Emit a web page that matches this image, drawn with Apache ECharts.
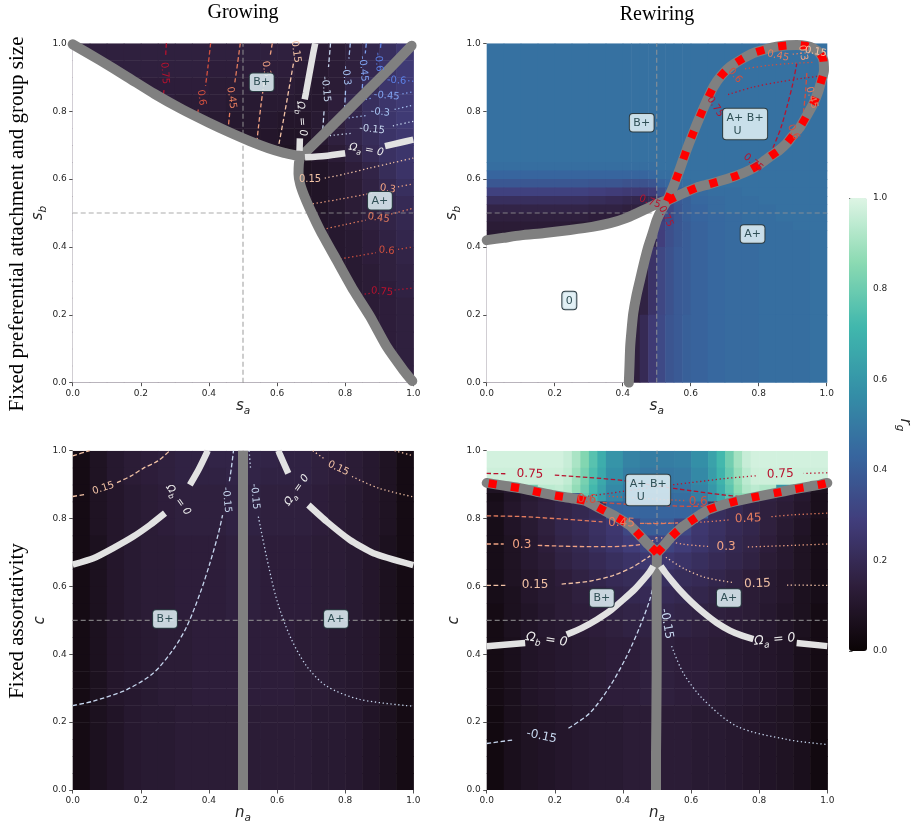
<!DOCTYPE html>
<html>
<head>
<meta charset="utf-8">
<title>r_g phase diagrams</title>
<script src="https://cdn.jsdelivr.net/npm/echarts@6.0.0/dist/echarts.min.js"></script>
<style>
  html, body { margin: 0; padding: 0; background: #fff; }
  #chart { width: 917px; height: 825px; }
</style>
</head>
<body>
<div id="chart"></div>
<script>
// ---------------- data ----------------
const ticks = [0, 0.2, 0.4, 0.6, 0.8, 1.0];
const cbTicks = [0, 0.2, 0.4, 0.6, 0.8, 1.0];

// heatmap cell edges (x left->right, y top->bottom)
const xEdges20 = [0,0.05,0.1,0.15,0.2,0.25,0.3,0.35,0.4,0.45,0.5,0.55,0.6,0.65,0.7,0.75,0.8,0.85,0.9,0.95,1];
const yEdges20 = [1,0.95,0.9,0.85,0.8,0.75,0.7,0.65,0.6,0.55,0.5,0.45,0.4,0.35,0.3,0.25,0.2,0.15,0.1,0.05,0];
const rewireXEdges = [0,0.05,0.1,0.15,0.2,0.25,0.3,0.35,0.4,0.425,0.45,0.475,0.5,0.525,0.55,0.575,0.6,0.65,0.7,0.75,0.8,0.85,0.9,0.95,1];
const rewireYEdges = [1,0.65,0.625,0.6,0.575,0.55,0.525,0.5,0.475,0.45,0.4,0.2,0];
const bandXEdges = [0,0.05,0.1,0.15,0.2,0.225,0.25,0.275,0.3,0.325,0.35,0.4,0.45,0.5,0.55,0.6,0.65,0.675,0.7,0.725,0.75,0.775,0.8,0.85,0.9,0.95,1];
const bandYEdges = [1,0.95,0.9,0.875,0.85];
const lowYEdges = [0.85,0.8,0.75,0.7,0.65,0.6,0.55,0.5,0.45,0.4,0.35,0.3,0.25,0.2,0.15,0.1,0.05,0];

// r_g in percent, one row per y band (top first)
const growGrid = [
  [15,15,15,15,15,15,15,15,15,15,15,15,15,14,13,13,15,18,22,26],
  [15,15,15,15,15,15,15,15,14,14,14,14,14,13,12,13,15,19,24,27],
  [14,14,14,14,14,14,14,14,13,13,13,13,13,12,11,13,17,21,25,27],
  [14,14,14,14,14,14,13,13,13,12,12,12,12,11,11,14,18,22,25,27],
  [14,14,14,14,14,13,13,12,12,11,11,11,10,10,12,15,18,22,25,27],
  [14,14,14,14,13,13,12,12,11,10,10,10, 9, 9,12,15,18,21,24,26],
  [13,13,13,13,13,12,12,11,10, 9, 9, 9, 8, 8,10,13,16,20,23,25],
  [12,12,12,12,12,12,12,12,12,12,12,12,12, 8, 9,11,14,17,21,24],
  [12,12,12,12,12,12,12,12,12,12,12,12,12, 8, 9,11,13,16,19,22],
  [12,12,12,12,12,12,12,12,12,12,12,12,12,12, 9,11,13,15,18,20],
  [12,12,12,12,12,12,12,12,12,12,12,12,12,12,10,11,13,15,17,19],
  [12,12,12,12,12,12,12,12,12,12,12,12,12,12,12,11,12,14,16,18],
  [12,12,12,12,12,12,12,12,12,12,12,12,12,12,12,11,12,14,15,17],
  [12,12,12,12,12,12,12,12,12,12,12,12,12,12,12,12,12,13,15,16],
  [12,12,12,12,12,12,12,12,12,12,12,12,12,12,12,12,12,13,14,16],
  [12,12,12,12,12,12,12,12,12,12,12,12,12,12,12,12,12,13,14,15],
  [12,12,12,12,12,12,12,12,12,12,12,12,12,12,12,12,12,13,14,15],
  [12,12,12,12,12,12,12,12,12,12,12,12,12,12,12,12,12,12,14,15],
  [12,12,12,12,12,12,12,12,12,12,12,12,12,12,12,12,12,12,14,15],
  [12,12,12,12,12,12,12,12,12,12,12,12,12,12,12,12,12,12,12,15]
];
const rewireGrid = [
  [47,47,47,47,47,47,47,47,47,47,47,47,47,47,47,47,47,47,47,47,47,47,47,47],
  [46,46,46,46,46,46,46,46,46,46,46,46,47,47,47,47,47,47,47,47,47,47,47,47],
  [43,43,43,43,43,43,43,43,43,43,43,44,46,46,47,47,47,47,47,47,47,47,47,47],
  [38,38,38,38,38,38,37,37,36,36,36,37,42,44,45,46,47,47,47,47,47,47,47,47],
  [30,30,30,30,30,30,29,28,27,27,27,28,36,40,42,44,45,46,46,47,47,47,47,47],
  [22,22,22,22,22,22,21,20,19,18,18,20,27,35,39,41,44,45,46,46,47,47,47,47],
  [17,17,17,17,17,17,16,16,15,15,15,16,22,33,38,41,43,45,46,46,46,47,47,47],
  [15,15,15,15,15,15,14,14,13,13,14,18,28,34,38,41,43,44,45,46,46,47,47,47],
  [13,13,13,13,13,12,12,12,12,12,14,22,30,35,38,40,42,44,45,46,46,46,47,47],
  [12,12,12,12,12,12,12,12,12,12,12,18,29,35,38,40,42,44,45,45,46,46,46,47],
  [12,12,12,12,12,12,12,12,12,13,16,24,32,36,39,40,42,44,45,45,46,46,46,47],
  [12,12,12,12,12,12,12,12,12,15,20,27,33,37,39,41,42,44,45,45,46,46,46,47]
];
const assortGrowGrid = [
  [4,8,11,13,14,15,16,16,17,17,17,17,16,16,15,14,13,11,8,4],
  [4,8,11,13,14,15,16,16,16,17,17,16,16,16,15,14,13,11,8,4],
  [4,8,10,12,13,14,15,15,15,16,16,15,15,15,14,13,12,10,8,4],
  [4,8,10,12,13,14,15,15,15,16,16,15,15,15,14,13,12,10,8,4],
  [4,8,10,12,13,14,15,15,15,16,16,15,15,15,14,13,12,10,8,4],
  [4,7,10,12,13,13,14,14,14,15,15,14,14,14,13,13,12,10,7,4],
  [4,7,10,12,13,13,14,14,14,15,15,14,14,14,13,13,12,10,7,4],
  [4,7,10,12,13,13,14,14,14,15,15,14,14,14,13,13,12,10,7,4],
  [4,7,10,12,13,13,14,14,14,15,15,14,14,14,13,13,12,10,7,4],
  [4,7,10,12,13,13,14,14,14,15,15,14,14,14,13,13,12,10,7,4],
  [4,7,10,11,12,13,13,14,14,14,14,14,14,13,13,12,11,10,7,4],
  [4,7,10,11,12,13,13,14,14,14,14,14,14,13,13,12,11,10,7,4],
  [4,7,10,11,12,13,13,14,14,14,14,14,14,13,13,12,11,10,7,4],
  [4,7,10,11,12,13,13,14,14,14,14,14,14,13,13,12,11,10,7,4],
  [4,7,10,11,12,13,13,14,14,14,14,14,14,13,13,12,11,10,7,4],
  [4,7,9,11,12,12,13,13,13,13,13,13,13,13,12,12,11,9,7,4],
  [4,7,9,11,12,12,13,13,13,13,13,13,13,13,12,12,11,9,7,4],
  [4,7,9,11,12,12,13,13,13,13,13,13,13,13,12,12,11,9,7,4],
  [4,7,9,11,12,12,13,13,13,13,13,13,13,13,12,12,11,9,7,4],
  [4,7,9,11,12,12,13,13,13,13,13,13,13,13,12,12,11,9,7,4]
];
// rewiring + fixed assortativity: light band at the top, then the rest
const assortRewireBand = [
  [98,98,98,98,98,96,91,84,76,68,59,53,51,51,52,57,64,72,81,90,96,98,98,98,98,98],
  [97,97,97,97,97,95,89,82,74,66,57,51,49,49,50,55,62,70,79,88,94,97,97,97,97,97],
  [8,11,80,94,95,93,87,80,72,64,55,49,47,47,48,53,60,68,77,86,92,94,92,60,15,7],
  [5,9,12,14,16,17,40,78,70,62,53,47,45,45,46,51,58,66,75,84,88,40,16,14,11,6]
];
const assortRewireLow = [
  [6,10,13,15,17,19,21,42,43,43,43,43,42,22,20,17,15,13,10,6],
  [5,9,12,15,18,20,23,26,32,40,40,32,26,23,20,18,15,12,9,5],
  [5,8,11,14,17,19,22,25,28,31,31,28,25,22,19,17,14,11,8,5],
  [5,8,11,13,16,18,20,22,24,26,26,24,22,20,18,16,13,11,8,5],
  [5,8,10,12,14,16,18,20,21,22,22,21,20,18,16,14,12,10,8,5],
  [5,7,10,12,13,15,16,18,19,20,20,19,18,16,15,13,12,10,7,5],
  [4,7,9,11,13,14,15,16,17,18,18,17,16,15,14,13,11,9,7,4],
  [4,7,9,11,12,13,14,15,16,16,16,16,15,14,13,12,11,9,7,4],
  [4,6,9,10,11,12,13,14,14,15,15,14,14,13,12,11,10,9,6,4],
  [4,6,9,10,11,12,13,14,14,15,15,14,14,13,12,11,10,9,6,4],
  [4,6,9,10,11,12,13,14,14,15,15,14,14,13,12,11,10,9,6,4],
  [4,6,9,10,11,12,13,14,14,15,15,14,14,13,12,11,10,9,6,4],
  [3,6,8,9,10,11,12,12,13,13,13,13,12,12,11,10,9,8,6,3],
  [3,6,8,9,10,11,12,12,13,13,13,13,12,12,11,10,9,8,6,3],
  [3,6,8,9,10,11,12,12,13,13,13,13,12,12,11,10,9,8,6,3],
  [3,6,8,9,10,11,12,12,13,13,13,13,12,12,11,10,9,8,6,3],
  [3,6,8,9,10,11,12,12,13,13,13,13,12,12,11,10,9,8,6,3]
];

// phase boundaries (null = break in the line)
const growBoundary = [[0,0.997],[0.08,0.95],[0.16,0.901],[0.24,0.851],[0.32,0.806],[0.4,0.766],[0.46,0.738],[0.52,0.712],[0.575,0.691],[0.618,0.678],[0.648,0.671],[0.667,0.666],[0.664,0.645],[0.663,0.615],[0.668,0.585],[0.68,0.55],[0.695,0.515],[0.726,0.45],[0.775,0.361],[0.824,0.273],[0.873,0.195],[0.922,0.106],[0.971,0.037],[0.997,0.005]];
const growDiagonal = [[0.672,0.668],[0.75,0.745],[0.85,0.845],[0.93,0.925],[0.995,0.993]];
const growOmegaB = [[0.712,1],[0.706,0.97],[0.695,0.91],[0.685,0.855],[0.681,0.835],null,[0.667,0.72],[0.666,0.683]];
const growOmegaA = [[0.682,0.664],[0.74,0.668],[0.8,0.676],null,[0.917,0.697],[0.96,0.707],[1,0.716]];

const rewireLeft = [[0,0.42],[0.05,0.427],[0.1,0.434],[0.17,0.441],[0.245,0.45],[0.31,0.459],[0.363,0.47],[0.41,0.485],[0.441,0.499],[0.475,0.515],[0.5,0.527],[0.53,0.538]];
const rewireBottom = [[0.418,0],[0.42,0.05],[0.422,0.106],[0.426,0.155],[0.431,0.204],[0.44,0.255],[0.451,0.303],[0.462,0.35],[0.475,0.4],[0.488,0.44],[0.5,0.479],[0.512,0.505],[0.53,0.535]];
const rewireLoop = [[0.53,0.535],[0.549,0.578],[0.57,0.635],[0.588,0.686],[0.607,0.735],[0.627,0.784],[0.647,0.83],[0.667,0.872],[0.69,0.905],[0.716,0.931],[0.75,0.953],[0.784,0.971],[0.82,0.982],[0.853,0.99],[0.885,0.994],[0.912,0.995],[0.94,0.992],[0.961,0.985],[0.98,0.97],[0.99,0.951],[0.992,0.92],[0.985,0.892],[0.975,0.858],[0.961,0.823],[0.942,0.788],[0.922,0.754],[0.9,0.728],[0.882,0.705],[0.86,0.685],[0.833,0.666],[0.805,0.645],[0.775,0.627],[0.735,0.61],[0.696,0.597],[0.655,0.585],[0.618,0.575],[0.578,0.558],[0.53,0.535]];

const assortGrowStem = [[0.5,0],[0.5,1]];
const assortGrowOmegaB = [[0,0.664],[0.061,0.683],[0.119,0.713],[0.178,0.747],[0.227,0.781],[0.271,0.816],null,[0.344,0.899],[0.369,0.943],[0.393,0.992],[0.396,1]];
const assortGrowOmegaA = [[0.604,1],[0.607,0.992],[0.633,0.933],null,[0.692,0.84],[0.746,0.791],[0.814,0.737],[0.883,0.698],[1,0.663]];

const assortRewireStem = [[0.497,0],[0.497,0.1],[0.498,0.2],[0.499,0.345],[0.499,0.5],[0.499,0.659],[0.5,0.698]];
const assortRewireLeft = [[0.5,0.698],[0.494,0.705],[0.47,0.728],[0.445,0.755],[0.42,0.78],[0.38,0.805],[0.338,0.827],[0.29,0.852],[0.25,0.86],[0.2,0.868],[0.147,0.879],[0.1,0.889],[0.05,0.897],[0,0.905]];
const assortRewireRight = [[0.5,0.698],[0.52,0.72],[0.543,0.747],[0.57,0.772],[0.597,0.791],[0.625,0.81],[0.651,0.826],[0.685,0.838],[0.719,0.848],[0.78,0.862],[0.846,0.875],[0.9,0.886],[0.95,0.895],[0.979,0.9],[1,0.905]];
const assortRewireOmegaB = [[0,0.424],[0.113,0.433],null,[0.235,0.458],[0.28,0.478],[0.323,0.502],[0.365,0.53],[0.401,0.561],[0.435,0.592],[0.46,0.62],[0.478,0.642],[0.489,0.66]];
const assortRewireOmegaA = [[0.511,0.66],[0.525,0.64],[0.545,0.615],[0.568,0.588],[0.6,0.555],[0.636,0.523],[0.675,0.493],[0.714,0.47],[0.75,0.455],[0.783,0.445],null,[0.91,0.433],[1,0.424]];

const crossV = [[0.5,0],[0.5,1]];
const crossH = [[0,0.5],[1,0.5]];

// contours: [level, 'd' dashed | 'o' dotted, points]
const growContours = [
  ['0.75','d',[[0.275,1],[0.273,0.965],null,[0.268,0.862],[0.265,0.836]]],
  ['0.6','d',[[0.405,1],[0.397,0.93],[0.39,0.875],null,[0.369,0.805],[0.362,0.775]]],
  ['0.45','d',[[0.492,1],[0.484,0.94],[0.476,0.885],null,[0.461,0.795],[0.455,0.735]]],
  ['0.3','d',[[0.586,1],[0.58,0.965],null,[0.562,0.885],[0.553,0.82],[0.545,0.75],[0.54,0.703]]],
  ['0.15','d',[[0.648,0.94],[0.634,0.86],[0.618,0.77],[0.603,0.69]]],
  ['-0.15','d',[[0.757,1],[0.751,0.93],null,[0.738,0.8],[0.733,0.73]]],
  ['-0.3','d',[[0.815,1],[0.811,0.955],null,[0.801,0.86],[0.798,0.8]]],
  ['-0.45','d',[[0.862,1],[0.859,0.97],null,[0.851,0.88],[0.849,0.852]]],
  ['-0.6','d',[[0.905,1],[0.903,0.98],null,[0.898,0.91],[0.897,0.9]]],
  ['-0.6','o',[[0.9,0.9],[0.918,0.896],null,[0.985,0.89],[1,0.888]]],
  ['-0.45','o',[[0.86,0.835],[0.875,0.838],null,[0.968,0.851],[1,0.857]]],
  ['-0.3','o',[[0.81,0.78],[0.86,0.787],null,[0.945,0.805],[1,0.818]]],
  ['-0.15','o',[[0.755,0.728],[0.82,0.735],null,[0.94,0.757],[1,0.77]]],
  ['0.15','o',[[0.74,0.603],[0.8,0.615],[0.87,0.632],[0.94,0.648],[1,0.662]]],
  ['0.3','o',[[0.705,0.527],[0.78,0.54],[0.86,0.555],[0.895,0.562],null,[0.955,0.577],[1,0.586]]],
  ['0.45','o',[[0.735,0.452],[0.8,0.466],[0.86,0.479],null,[0.935,0.497],[1,0.514]]],
  ['0.6','o',[[0.775,0.363],[0.84,0.374],[0.89,0.383],null,[0.955,0.393],[1,0.4]]],
  ['0.75','o',[[0.834,0.258],[0.872,0.263],null,[0.945,0.273],[1,0.279]]]
];
const rewireContours = [
  ['0.75','o',[[0.71,0.849],[0.78,0.87],[0.86,0.886],[0.93,0.897],[0.975,0.903]]],
  ['0.6','o',[[0.76,0.925],[0.83,0.935],[0.9,0.941],[0.965,0.944]]],
  ['0.45','o',[[0.9,0.968],[0.94,0.972],[0.97,0.975]]],
  ['0.75','d',[[0.842,0.692],[0.865,0.75],[0.885,0.82],[0.9,0.88],[0.912,0.94]]],
  ['0.6','d',[[0.925,0.735],[0.932,0.8],[0.938,0.86],[0.942,0.92]]]
];
const assortGrowContours = [
  ['-0.15','d',[[0,0.249],[0.061,0.262],[0.159,0.296],[0.237,0.345],[0.295,0.414],[0.335,0.482],[0.374,0.58],[0.403,0.669],[0.428,0.757],[0.44,0.81],null,[0.46,0.91],[0.466,0.95],[0.472,1]]],
  ['-0.15','o',[[0.518,1],[0.522,0.95],null,[0.545,0.806],[0.569,0.688],[0.599,0.561],[0.638,0.453],[0.687,0.365],[0.746,0.306],[0.843,0.267],[1,0.247]]],
  ['0.15','d',[[0,0.865],[0.04,0.872],null,[0.13,0.906],[0.17,0.925],[0.207,0.948],[0.25,0.97],[0.285,1]]],
  ['0.15','d',[[0,0.985],[0.05,1]]],
  ['0.15','o',[[0.705,1],[0.74,0.975],null,[0.82,0.924],[0.9,0.889],[1,0.864]]],
  ['0.15','o',[[0.945,1],[1,0.985]]]
];
const assortRewireContours = [
  ['0.75','d',[[0,0.933],[0.06,0.932],null,[0.2,0.928],[0.3,0.921],[0.4,0.912],[0.5,0.896],[0.6,0.882],[0.7,0.869],[0.75,0.864]]],
  ['0.75','o',[[1,0.935],[0.93,0.933],null,[0.79,0.926],[0.7,0.918],[0.6,0.906],[0.5,0.894],[0.4,0.88],[0.3,0.866],[0.26,0.861]]],
  ['0.6','d',[[0.32,0.849],[0.4,0.843],[0.5,0.839],[0.6,0.836],[0.67,0.838]]],
  ['0.6','o',[[0.73,0.849],[0.66,0.85],null,[0.58,0.853],[0.5,0.857],[0.42,0.862],[0.35,0.866]]],
  ['0.45','d',[[0,0.808],[0.1,0.806],[0.2,0.8],[0.3,0.793],[0.34,0.79],null,[0.45,0.786],[0.5,0.785],[0.56,0.787]]],
  ['0.45','o',[[1,0.816],[0.9,0.811],[0.83,0.805],null,[0.71,0.796],[0.64,0.79],[0.56,0.787],[0.46,0.786]]],
  ['0.3','d',[[0,0.725],[0.05,0.725],null,[0.15,0.721],[0.25,0.718],[0.35,0.717],[0.44,0.722],[0.48,0.731],[0.5,0.745]]],
  ['0.3','o',[[1,0.725],[0.9,0.721],[0.76,0.716],null,[0.65,0.718],[0.58,0.724],[0.53,0.735],[0.51,0.745]]],
  ['0.15','d',[[0,0.603],[0.06,0.603],null,[0.22,0.607],[0.3,0.615],[0.37,0.632],[0.43,0.658],[0.48,0.69]]],
  ['0.15','o',[[1,0.603],[0.88,0.604],null,[0.72,0.612],[0.64,0.627],[0.58,0.652],[0.52,0.69]]],
  ['-0.15','d',[[0,0.137],[0.08,0.148],null,[0.24,0.182],[0.303,0.227],[0.362,0.306],[0.411,0.394],[0.45,0.482],[0.479,0.561],[0.49,0.61]]],
  ['-0.15','o',[[0.543,0.424],[0.577,0.345],[0.636,0.267],[0.734,0.188],[0.881,0.149],[1,0.134]]]
];

// contour labels: [x, y, text, rotation]
const growLevelLabels = [
  [0.27,0.912,'0.75',-86],[0.378,0.84,'0.6',-82],[0.466,0.84,'0.45',-82],[0.568,0.925,'0.3',-82],[0.655,0.975,'0.15',-82],
  [0.743,0.865,'-0.15',-85],[0.803,0.905,'-0.3',-85],[0.853,0.925,'-0.45',-85],[0.898,0.945,'-0.6',-85],
  [0.951,0.89,'-0.6',-4],[0.922,0.845,'-0.45',-5],[0.903,0.797,'-0.3',-6],[0.879,0.746,'-0.15',-6],
  [0.697,0.599,'0.15',0],[0.925,0.571,'0.3',-8],[0.898,0.485,'0.45',-8],[0.922,0.389,'0.6',-5],[0.908,0.268,'0.75',-5]
];
const rewireLevelLabels = [
  [0.672,0.813,'0.75',-58],[0.784,0.648,'0.75',-40],[0.73,0.905,'0.6',-50],[0.902,0.738,'0.6',-65],
  [0.857,0.963,'0.45',-12],[0.956,0.84,'0.45',-75],[0.48,0.533,'0.75',-20],[0.527,0.49,'0.75',-65],
  [0.93,0.972,'0.3',-80],[0.968,0.975,'0.15',-10]
];
const assortGrowLevelLabels = [
  [0.452,0.855,'-0.15',-85],[0.535,0.865,'-0.15',-85],[0.09,0.889,'0.15',18],[0.78,0.948,'0.15',-25]
];
const assortRewireLevelLabels = [
  [0.127,0.931,'0.75',-2],[0.862,0.931,'0.75',2],[0.294,0.857,'0.6',-4],[0.621,0.85,'0.6',0],
  [0.396,0.787,'0.45',-2],[0.768,0.8,'0.45',2],[0.103,0.723,'0.3',0],[0.703,0.717,'0.3',0],
  [0.142,0.605,'0.15',0],[0.795,0.608,'0.15',2],[0.161,0.158,'-0.15',-12],[0.528,0.49,'-0.15',-80]
];

// Omega = 0 labels: [x, y, subscript, rotation]
const growOmegaLabels = [[0.672,0.778,'b',-85],[0.862,0.686,'a',-10]];
const assortGrowOmegaLabels = [[0.31,0.855,'b',-55],[0.658,0.884,'a',55]];
const assortRewireOmegaLabels = [[0.176,0.443,'b',-8],[0.846,0.443,'a',5]];

// regime boxes: [x, y, text]
const growBoxes = [[0.555,0.885,'B+'],[0.902,0.536,'A+']];
const rewireBoxes = [[0.456,0.766,'B+'],[0.76,0.762,'A+ B+|U'],[0.782,0.438,'A+'],[0.243,0.242,'0']];
const assortGrowBoxes = [[0.271,0.504,'B+'],[0.773,0.504,'A+']];
const assortRewireBoxes = [[0.474,0.884,'A+ B+|U'],[0.338,0.566,'B+'],[0.711,0.566,'A+']];

// ---------------- styling ----------------
const mako = ['#0b0405', '#2e1e3b', '#413d7b', '#37659e', '#348fa7', '#40b7ad', '#8bdab2', '#def5e5'];
const levelColor = {
  '-0.6': '#5b7fe4', '-0.45': '#7fa2f0', '-0.3': '#a6c2f2', '-0.15': '#c6d6ee',
  '0.15': '#f3c3a6', '0.3': '#f0a283', '0.45': '#e47c5e', '0.6': '#d2503f', '0.75': '#b8122e'
};
const SANS = 'DejaVu Sans';
const SERIF = 'Liberation Serif';
const INK = '#262626';
const panels = [
  { left: 72.7, top: 43.3, width: 340.6, height: 339.4 },
  { left: 486.7, top: 43.3, width: 340, height: 339.4 },
  { left: 72.7, top: 450.7, width: 340.6, height: 340 },
  { left: 486.7, top: 450.7, width: 340.6, height: 340 }
];

const chart = echarts.init(document.getElementById('chart'));

// one record per cell: [x0, y0, x1, y1, r_g]
function gridCells(rows, xe, ye) {
  const out = [];
  rows.forEach((row, r) => row.forEach((v, c) => {
    out.push([xe[c], ye[r], xe[c + 1], ye[r + 1], v / 100]);
  }));
  return out;
}

function renderCell(params, api) {
  const p0 = api.coord([api.value(0), api.value(1)]);
  const p1 = api.coord([api.value(2), api.value(3)]);
  return {
    type: 'rect',
    shape: { x: p0[0], y: p0[1], width: p1[0] - p0[0] + 0.6, height: p1[1] - p0[1] + 0.6 },
    style: { fill: api.visual('color') }
  };
}

function heatSeries(p, rows, xe, ye) {
  return {
    type: 'custom', xAxisIndex: p, yAxisIndex: p, silent: true, z: 1, clip: true,
    dimensions: ['x0', 'y0', 'x1', 'y1', 'rg'], encode: { x: [0, 2], y: [1, 3] },
    data: gridCells(rows, xe, ye), renderItem: renderCell
  };
}

function voidSeries(p, poly) {
  return {
    type: 'custom', xAxisIndex: p, yAxisIndex: p, silent: true, z: 2, clip: true,
    data: [[0.5, 0.5]], encode: { x: 0, y: 1 },
    renderItem: (params, api) => ({
      type: 'polygon',
      shape: { points: poly.map(pt => api.coord(pt)) },
      style: { fill: '#ffffff' }
    })
  };
}

function path(points) {
  return points.map(pt => (pt === null ? ['-', '-'] : pt));
}

function line(p, points, lineStyle, z, smooth) {
  return {
    type: 'line', xAxisIndex: p, yAxisIndex: p, data: path(points),
    symbol: 'none', showSymbol: false, silent: true, connectNulls: false,
    smooth: smooth || 0, z: z, lineStyle: lineStyle
  };
}

function contourSeries(p, list) {
  return list.map(([lvl, kind, pts]) => line(p, pts, {
    color: levelColor[lvl], width: 1.3,
    type: kind === 'd' ? [4.5, 2.5] : [1.3, 2.6]
  }, 4, 0.3));
}

function levelLabelSeries(p, items, size) {
  return {
    type: 'scatter', xAxisIndex: p, yAxisIndex: p, symbolSize: 0, silent: true, z: 8, clip: false,
    itemStyle: { opacity: 1 },
    data: items.map(([x, y, txt, rot]) => ({
      value: [x, y],
      label: { formatter: txt, rotate: rot, color: levelColor[txt] }
    })),
    label: { show: true, position: 'inside', fontSize: size, fontFamily: SANS }
  };
}

function omegaLabelSeries(p, items, size) {
  return {
    type: 'scatter', xAxisIndex: p, yAxisIndex: p, symbolSize: 0, silent: true, z: 8, clip: false,
    itemStyle: { opacity: 1 },
    data: items.map(([x, y, sub, rot]) => ({
      value: [x, y],
      label: { formatter: '{o|Ω}{s|' + sub + '}{o| = 0}', rotate: rot }
    })),
    label: {
      show: true, position: 'inside', color: '#ececec',
      rich: {
        o: { fontSize: size, fontStyle: 'italic', fontFamily: SANS, color: '#ececec', lineHeight: size + 6 },
        s: { fontSize: size * 0.72, fontStyle: 'italic', fontFamily: SANS, color: '#ececec', verticalAlign: 'bottom' }
      }
    }
  };
}

function boxSeries(p, items) {
  return {
    type: 'scatter', xAxisIndex: p, yAxisIndex: p, symbolSize: 0, silent: true, z: 9, clip: false,
    itemStyle: { opacity: 1 },
    data: items.map(([x, y, txt]) => ({
      value: [x, y],
      label: {
        formatter: txt.indexOf('|') >= 0
          ? txt.split('|').map((s, i) => '{m|' + (i ? '  ' + s : s) + '}').join('\n')
          : txt
      }
    })),
    label: {
      show: true, position: 'inside', fontSize: 11, lineHeight: 13, fontFamily: SANS, color: '#2f4f55',
      backgroundColor: 'rgba(222,238,244,0.88)', borderColor: '#2b3b42', borderWidth: 1,
      borderRadius: 3, padding: [2.5, 3.5, 2, 3.5],
      rich: { m: { width: 37, align: 'left', fontSize: 11, lineHeight: 13, fontFamily: SANS, color: '#2f4f55' } }
    }
  };
}

const grayStyle = { color: '#808080', width: 10, cap: 'round', join: 'round' };
const redStyle = { color: '#ff0000', width: 8, type: [8, 14.5], cap: 'butt' };
const whiteStyle = { color: '#e2e2e2', width: 6.5, cap: 'butt' };
const crossStyle = { color: 'rgba(150,150,150,0.8)', width: 1.2, type: [5, 3] };

function axisName(main, sub) {
  return sub ? '{v|' + main + '}{u|' + sub + '}' : '{v|' + main + '}';
}
const nameStyle = {
  color: INK,
  rich: {
    v: { fontSize: 15, fontStyle: 'italic', fontFamily: SANS, color: INK, lineHeight: 21 },
    u: { fontSize: 10.5, fontStyle: 'italic', fontFamily: SANS, color: INK, verticalAlign: 'bottom' }
  }
};

function axisFor(i, name, gap) {
  return {
    gridIndex: i, type: 'value', min: 0, max: 1, interval: 0.2,
    name: name, nameLocation: 'middle', nameGap: gap, nameTextStyle: nameStyle,
    axisLine: { show: false }, splitLine: { show: false },
    axisTick: { show: true, length: 3.5, lineStyle: { color: INK, width: 0.8 }, customValues: ticks },
    axisLabel: { fontSize: 9, color: INK, margin: 6, fontFamily: SANS, customValues: ticks, formatter: v => v.toFixed(1) }
  };
}

// ---------------- series ----------------
const series = [
  heatSeries(0, growGrid, xEdges20, yEdges20),
  heatSeries(1, rewireGrid, rewireXEdges, rewireYEdges),
  heatSeries(2, assortGrowGrid, xEdges20, yEdges20),
  heatSeries(3, assortRewireBand, bandXEdges, bandYEdges),
  heatSeries(3, assortRewireLow, xEdges20, lowYEdges),
  voidSeries(0, [[0, 0]].concat(growBoundary, [[1, 0]])),
  voidSeries(1, [[0, 0]].concat(rewireLeft, rewireBottom.slice().reverse()))
];

[0, 1, 2, 3].forEach(p => {
  series.push(line(p, crossV, crossStyle, 3));
  series.push(line(p, crossH, crossStyle, 3));
});

series.push(...contourSeries(0, growContours));
series.push(...contourSeries(1, rewireContours));
series.push(...contourSeries(2, assortGrowContours));
series.push(...contourSeries(3, assortRewireContours));

// growing, fixed PA
series.push(line(0, growBoundary, grayStyle, 5, 0.2));
series.push(line(0, growDiagonal, grayStyle, 5));
series.push(line(0, growOmegaB, whiteStyle, 7, 0.2));
series.push(line(0, growOmegaA, whiteStyle, 7, 0.2));
// rewiring, fixed PA
series.push(line(1, rewireLeft, grayStyle, 5, 0.2));
series.push(line(1, rewireBottom, grayStyle, 5, 0.2));
series.push(line(1, rewireLoop, grayStyle, 5, 0.2));
series.push(line(1, rewireLoop, redStyle, 6, 0.2));
// growing, fixed assortativity
series.push(line(2, assortGrowStem, Object.assign({}, grayStyle, { cap: 'butt' }), 5));
series.push(line(2, assortGrowOmegaB, whiteStyle, 7, 0.2));
series.push(line(2, assortGrowOmegaA, whiteStyle, 7, 0.2));
// rewiring, fixed assortativity
series.push(line(3, assortRewireStem, Object.assign({}, grayStyle, { cap: 'butt' }), 5));
series.push(line(3, assortRewireLeft, grayStyle, 5, 0.2));
series.push(line(3, assortRewireRight, grayStyle, 5, 0.2));
series.push(line(3, assortRewireLeft, redStyle, 6, 0.2));
series.push(line(3, assortRewireRight, redStyle, 6, 0.2));
series.push(line(3, assortRewireOmegaB, whiteStyle, 7, 0.2));
series.push(line(3, assortRewireOmegaA, whiteStyle, 7, 0.2));

series.push(levelLabelSeries(0, growLevelLabels, 10));
series.push(levelLabelSeries(1, rewireLevelLabels, 10));
series.push(levelLabelSeries(2, assortGrowLevelLabels, 10));
series.push(levelLabelSeries(3, assortRewireLevelLabels, 12));
series.push(omegaLabelSeries(0, growOmegaLabels, 10.5));
series.push(omegaLabelSeries(2, assortGrowOmegaLabels, 10.5));
series.push(omegaLabelSeries(3, assortRewireOmegaLabels, 12.5));
series.push(boxSeries(0, growBoxes));
series.push(boxSeries(1, rewireBoxes));
series.push(boxSeries(2, assortGrowBoxes));
series.push(boxSeries(3, assortRewireBoxes));
series.push({ type: 'line', xAxisIndex: 4, yAxisIndex: 4, data: [], silent: true });

const option = {
  animation: false,
  backgroundColor: '#ffffff',
  grid: panels.concat([{ left: 849, top: 198, width: 18, height: 453 }]),
  xAxis: [
    axisFor(0, axisName('s', 'a'), 13), axisFor(1, axisName('s', 'a'), 13),
    axisFor(2, axisName('n', 'a'), 13), axisFor(3, axisName('n', 'a'), 13),
    { gridIndex: 4, type: 'value', min: 0, max: 1, show: false }
  ],
  yAxis: [
    axisFor(0, axisName('s', 'b'), 22), axisFor(1, axisName('s', 'b'), 22),
    axisFor(2, axisName('c'), 22), axisFor(3, axisName('c'), 22),
    {
      gridIndex: 4, type: 'value', min: 0, max: 1, interval: 0.2, position: 'right',
      axisLine: { show: false }, splitLine: { show: false },
      axisTick: { show: true, length: 3.5, lineStyle: { color: INK, width: 0.8 }, customValues: cbTicks },
      axisLabel: { fontSize: 9, color: INK, margin: 6, fontFamily: SANS, customValues: cbTicks, formatter: v => v.toFixed(1) }
    }
  ],
  visualMap: {
    type: 'continuous', min: 0, max: 1, dimension: 4, seriesIndex: [0, 1, 2, 3, 4],
    inRange: { color: mako }, left: 849, top: 198, itemWidth: 18, itemHeight: 453,
    calculable: false, hoverLink: false, padding: 0, orient: 'vertical'
  },
  graphic: [
    { type: 'text', x: 243, y: 13, style: { text: 'Growing', font: '20px "' + SERIF + '"', fill: '#000', align: 'center', verticalAlign: 'middle' } },
    { type: 'text', x: 657, y: 15, style: { text: 'Rewiring', font: '20px "' + SERIF + '"', fill: '#000', align: 'center', verticalAlign: 'middle' } },
    { type: 'text', x: 17, y: 224, rotation: Math.PI / 2, style: { text: 'Fixed preferential attachment and group size', font: '21px "' + SERIF + '"', fill: '#000', align: 'center', verticalAlign: 'middle' } },
    { type: 'text', x: 17, y: 621, rotation: Math.PI / 2, style: { text: 'Fixed assortativity', font: '21px "' + SERIF + '"', fill: '#000', align: 'center', verticalAlign: 'middle' } },
    {
      type: 'text', x: 905, y: 425, rotation: -Math.PI / 2,
      style: {
        text: '{v|r}{u|g}', align: 'center', verticalAlign: 'middle',
        rich: {
          v: { fontSize: 15, fontStyle: 'italic', fontFamily: SANS, fill: INK, lineHeight: 21 },
          u: { fontSize: 10.5, fontStyle: 'italic', fontFamily: SANS, fill: INK, verticalAlign: 'bottom' }
        }
      }
    }
  ],
  series: series
};

chart.setOption(option);
</script>
</body>
</html>
